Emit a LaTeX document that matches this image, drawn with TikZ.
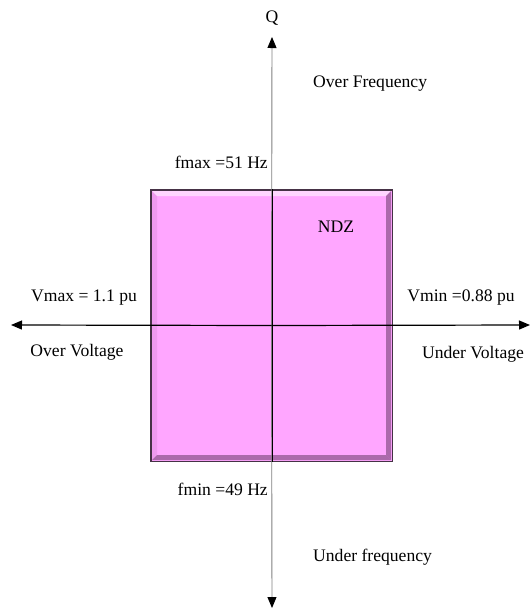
\documentclass[tikz,border=0pt]{standalone}
\usepackage{fontspec}
\setmainfont{Liberation Serif}
\usetikzlibrary{arrows.meta}
\definecolor{ndzfill}{RGB}{255,166,255}
\definecolor{ndzlight}{RGB}{255,214,255}
\definecolor{ndzdark}{RGB}{150,90,150}
\definecolor{ndzedge}{RGB}{70,50,70}
\begin{document}
\begin{tikzpicture}[x=1pt,y=-1pt,
  lbl/.style={inner sep=0pt,font=\fontsize{17.6}{20}\selectfont},
  axis/.style={line width=0.9pt,-{Triangle[length=11pt,width=9pt,color=black]}},
  zone/.style={draw=ndzedge,line width=1pt,fill=ndzfill,minimum width=241pt,minimum height=271pt,inner sep=0pt}]
\useasboundingbox (0,0) rectangle (531,611);

% non-detection zone with bevelled edges
\node[zone] (ndz) at (271.5,325.5) {};
\fill[ndzlight] (152,191) -- (391,191) -- (386,196) -- (157,196) -- cycle;
\fill[ndzdark,opacity=0.8] (391,191) -- (391,460) -- (386,455) -- (386,196) -- cycle;
\fill[ndzdark,opacity=0.8] (152,460) -- (391,460) -- (386,455) -- (157,455) -- cycle;
\fill[ndzdark,opacity=0.15] (152,191) -- (157,196) -- (157,455) -- (152,460) -- cycle;
\draw[ndzedge,line width=1pt] (ndz.north west) rectangle (ndz.south east);

% axes
\coordinate (qtop) at (272,37);
\coordinate (qbot) at (272,608);
\coordinate (vleft) at (11,325);
\coordinate (vright) at (530,325);
\draw[axis,gray] (ndz.center) -- (qtop);
\draw[axis,gray] (ndz.center) -- (qbot);
\begin{scope}
  \clip (ndz.north west) rectangle (ndz.south east);
  \draw[line width=0.9pt,black] (qtop) -- (qbot);
\end{scope}
\draw[axis,black,line width=1.2pt] (ndz.center) -- (vleft);
\draw[axis,black,line width=1.2pt] (ndz.center) -- (vright);

% labels
\node[lbl] (q) at (272,18) {Q};
\node[lbl,anchor=west] (of) at (313,84) {Over Frequency};
\node[lbl,anchor=east] (fmax) at (268,162) {fmax =51 Hz};
\node[lbl] (ndzl) at (336,227) {NDZ};
\node[lbl] (vmax) at (84,298) {Vmax = 1.1 pu};
\node[lbl] (ov) at (77,352) {Over Voltage};
\node[lbl] (vmin) at (461,298) {Vmin =0.88 pu};
\node[lbl] (uv) at (473,354) {Under Voltage};
\node[lbl,anchor=east] (fmin) at (268,489) {fmin =49 Hz};
\node[lbl,anchor=west] (uf) at (313,557) {Under frequency};
\end{tikzpicture}
\end{document}
